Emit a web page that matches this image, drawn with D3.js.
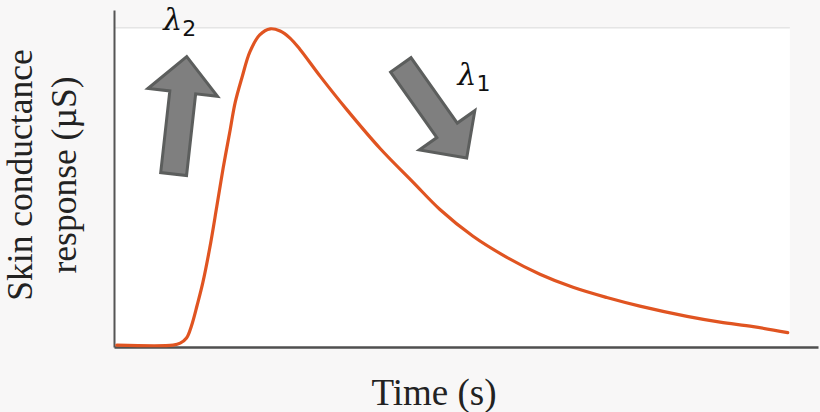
<!DOCTYPE html>
<html><head><meta charset="utf-8">
<script src="https://cdn.jsdelivr.net/npm/d3@7"></script>
<style>html,body{margin:0;padding:0;background:#f8f7f7;} svg{display:block;}</style>
</head><body><svg id="c" width="820" height="412"></svg>
<script>
// Data (time in arbitrary units, response normalised to peak)
const timeValues = [0.4, 8.4, 9.4, 10.3, 11.0, 11.8, 12.6, 13.6, 14.6, 15.5, 16.5, 17.2, 18.2, 19.3, 20.7, 22.2, 23.6, 25.0, 26.4, 29.3, 33.1, 37.8, 42.5, 46.3, 51.0, 55.8, 60.5, 65.2, 70.0, 74.7, 81.4, 86.1, 90.8, 95.7];
const scrValues  = [0.006, 0.006, 0.012, 0.028, 0.066, 0.13, 0.20, 0.31, 0.44, 0.56, 0.68, 0.765, 0.846, 0.925, 0.978, 0.997, 0.99, 0.968, 0.933, 0.848, 0.743, 0.622, 0.516, 0.431, 0.347, 0.281, 0.228, 0.187, 0.155, 0.128, 0.096, 0.078, 0.064, 0.045];
const arrowStarts = [[8.47, 0.542], [40.74, 0.884]];
const arrowEnds   = [[10.33, 0.910], [50.10, 0.592]];
const lambdaLabels = [{sub: "2", t: 7.0, v: 0.994}, {sub: "1", t: 48.8, v: 0.82}];
const xLabel = "Time (s)";
const yLabelLines = ["Skin conductance", "response (µS)"];

const svg = d3.select("#c");
const x = d3.scaleLinear().domain([0, 100]).range([114, 818]);
const y = d3.scaleLinear().domain([0, 1.056]).range([347, 10]);

// white plot panel
svg.append("rect").attr("x", x(0)).attr("y", y(1)).attr("width", x(96) - x(0)).attr("height", y(0) - y(1)).attr("fill", "#ffffff");
// top gridline
svg.append("line").attr("x1", x(0)).attr("x2", x(96)).attr("y1", y(1)).attr("y2", y(1)).attr("stroke", "#d9d9d9").attr("stroke-width", 1);

// axes
const gx = svg.append("g").attr("transform", `translate(0,${y(0)})`).call(d3.axisBottom(x).ticks(0).tickSize(0).tickSizeOuter(0));
gx.selectAll("text").remove();
gx.select(".domain").attr("stroke", "#4f4f4f").attr("stroke-width", 2.5);
const gy = svg.append("g").attr("transform", `translate(${x(0)},0)`).call(d3.axisLeft(y).ticks(0).tickSize(0).tickSizeOuter(0));
gy.selectAll("text").remove();
gy.select(".domain").attr("stroke", "#555555").attr("stroke-width", 2);

// curve
const pts = timeValues.map((t, i) => [t, scrValues[i]]);
svg.append("path").datum(pts)
  .attr("d", d3.line().x(d => x(d[0])).y(d => y(d[1])).curve(d3.curveCatmullRom.alpha(0.5)))
  .attr("fill", "none").attr("stroke", "#e05421").attr("stroke-width", 3.2).attr("stroke-linecap", "round");

// arrows
function arrowPoly(p0, p1, shaftW, headW, headL) {
  const dx = p1[0] - p0[0], dy = p1[1] - p0[1];
  const L = Math.hypot(dx, dy), ux = dx / L, uy = dy / L, nx = -uy, ny = ux;
  const bx = p1[0] - ux * headL, by = p1[1] - uy * headL;
  return [
    [p0[0] + nx * shaftW / 2, p0[1] + ny * shaftW / 2],
    [bx + nx * shaftW / 2, by + ny * shaftW / 2],
    [bx + nx * headW / 2, by + ny * headW / 2],
    [p1[0], p1[1]],
    [bx - nx * headW / 2, by - ny * headW / 2],
    [bx - nx * shaftW / 2, by - ny * shaftW / 2],
    [p0[0] - nx * shaftW / 2, p0[1] - ny * shaftW / 2]
  ];
}
const arrowDims = [[26, 70, 36], [25, 68, 34]];
arrowStarts.forEach((s, i) => {
  const p0 = [x(s[0]), y(s[1])], p1 = [x(arrowEnds[i][0]), y(arrowEnds[i][1])];
  const poly = arrowPoly(p0, p1, ...arrowDims[i]);
  svg.append("path").attr("d", "M" + poly.map(p => p.join(",")).join("L") + "Z")
    .attr("fill", "#7f7f7f").attr("stroke", "#5c5e5d").attr("stroke-width", 3).attr("stroke-linejoin", "miter");
});

// lambda labels
lambdaLabels.forEach(l => {
  const t = svg.append("text").attr("x", x(l.t)).attr("y", y(l.v))
    .attr("font-family", "'DejaVu Serif', serif").attr("font-size", 30).attr("fill", "#111");
  t.append("tspan").attr("font-style", "italic").text("λ");
  t.append("tspan").attr("font-family", "'DejaVu Sans', sans-serif").attr("font-size", 22).attr("dy", 6).text(l.sub);
});

// axis titles
svg.append("text").attr("x", 434).attr("y", 405).attr("text-anchor", "middle")
  .attr("font-family", "'Liberation Serif', 'Times New Roman', serif").attr("font-size", 37).attr("fill", "#222").text(xLabel);
yLabelLines.forEach((ln, i) => {
  svg.append("text").attr("transform", `translate(${32 + i * 44},175) rotate(-90)`).attr("text-anchor", "middle")
    .attr("font-family", "'Liberation Serif', 'Times New Roman', serif").attr("font-size", 35.5).attr("fill", "#222").text(ln);
});
</script></body></html>
